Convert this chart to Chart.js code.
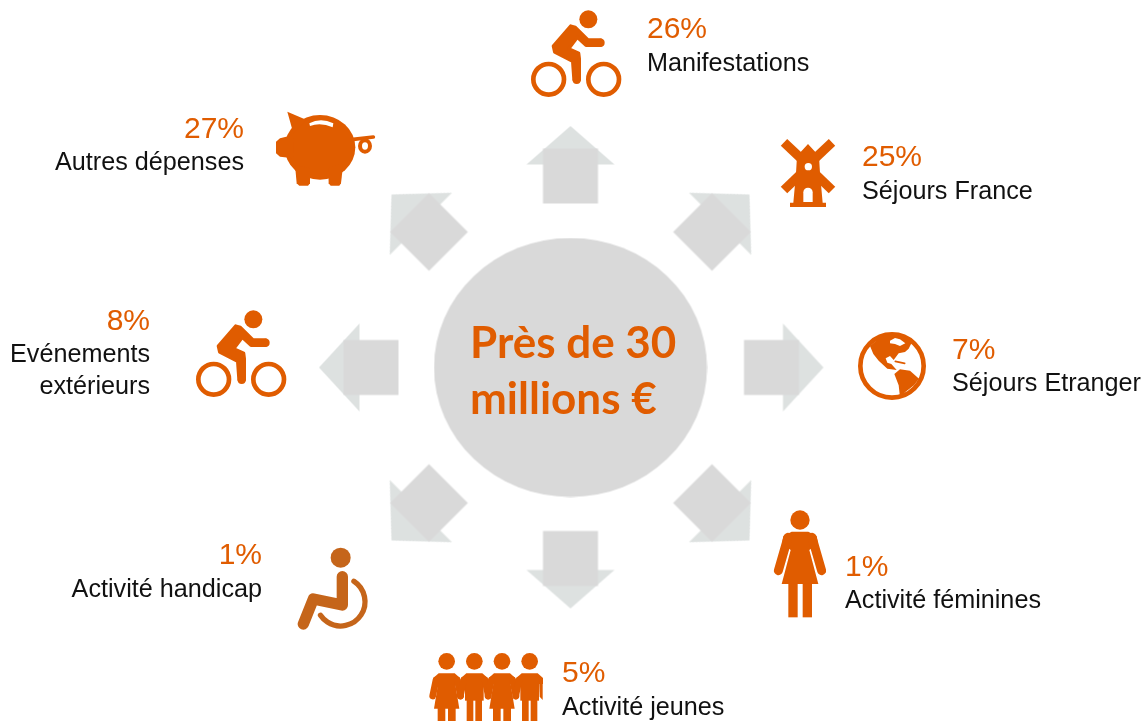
<!DOCTYPE html>
<html lang="fr"><head><meta charset="utf-8">
<style>html,body{margin:0;padding:0;background:#fff}canvas{display:block}</style>
<script src="https://cdn.jsdelivr.net/npm/chart.js@4"></script>
</head><body><canvas id="c" width="1144" height="722"></canvas>
<script>
// ---- data ----
const categories = ['Manifestations','Séjours France','Séjours Etranger','Activité féminines','Activité jeunes','Activité handicap','Evénements extérieurs','Autres dépenses'];
const shares = [26,25,7,1,5,1,8,27];
const labelLines = [['Manifestations'],['Séjours France'],['Séjours Etranger'],['Activité féminines'],['Activité jeunes'],['Activité handicap'],['Evénements','extérieurs'],['Autres dépenses']];
const hubTitle = ['Près de 30','millions €'];

// ---- layout (chart units) ----
const arrowX = [570.5,712,771.5,712,570.5,429,371,429];
const arrowY = [176,232,367.5,503,558.5,503,367.5,232];
const arrowTip = [50,53,52,53,50,53,52,53];
const iconX = [577,808,892,799,486,333,242,325];
const iconY = [54,173,366,564,687,589,354,148];
const textX = [647,862,952,845,562,262,150,244];
const textAlign = ['left','left','left','left','left','right','right','right'];
const pctBase = [38,166,359,576,682,564,330,138];
const lineBase = [71,199,391,608,715,597,362,170];

const ORANGE='#E05C00', CHAIR='#C5651A', HUB='#D9D9D9', TRI='#DDE1E0', INK='#111111';

function glyph(x0,y0,x1,y1,color,fn){
  const c=document.createElement('canvas');
  c.width=Math.round((x1-x0)/3); c.height=Math.round((y1-y0)/3);
  const g=c.getContext('2d'); g.scale(1/3,1/3); g.translate(-x0,-y0);
  g.fillStyle=color; g.strokeStyle=color; g.lineJoin='round'; g.lineCap='round';
  fn(g); return c;
}
function poly(g,p){g.beginPath();p.forEach((q,i)=>i?g.lineTo(q[0],q[1]):g.moveTo(q[0],q[1]));g.closePath();}
function dot(g,x,y,r){g.beginPath();g.arc(x,y,r,0,Math.PI*2);g.fill();}
function line(g,p,w,cap){g.lineWidth=w;g.lineCap=cap||'round';g.beginPath();p.forEach((q,i)=>i?g.lineTo(q[0],q[1]):g.moveTo(q[0],q[1]));g.stroke();}

const cyclist=()=>glyph(30,24,312,300,ORANGE,g=>{
  dot(g,205,58,27);
  g.lineWidth=14;
  [[86,238],[251,238]].forEach(w=>{g.beginPath();g.arc(w[0],w[1],46,0,Math.PI*2);g.stroke();});
  poly(g,[[152,78],[166,82],[204,120],[243,120],[243,136],[198,136],[172,112],[146,146],[176,160],[178,176],[178,240],[162,240],[158,184],[104,156],[100,138]]);
  g.fill(); g.lineWidth=10; g.stroke();
  line(g,[[242,128],[242,128]],24);
  line(g,[[170,240],[170,240]],24);
});
const windmill=()=>glyph(330,24,498,234,ORANGE,g=>{
  line(g,[[342,37],[400,92]],28,'butt');
  line(g,[[486,37],[428,92]],28,'butt');
  line(g,[[342,180],[392,132]],28,'butt');
  line(g,[[486,180],[436,132]],28,'butt');
  poly(g,[[414,42],[447,78],[450,130],[458,218],[468,218],[468,231],[360,231],[360,218],[370,218],[378,130],[381,78]]);
  g.fill();
  g.fillStyle='#fff'; dot(g,415,110,11);
  g.beginPath();g.moveTo(400,216);g.lineTo(400,187);g.arc(414,187,14,Math.PI,0);g.lineTo(428,216);g.closePath();g.fill();
});
const globe=()=>glyph(18,30,234,246,ORANGE,g=>{
  g.lineWidth=14; g.beginPath(); g.arc(126,138,95,0,Math.PI*2); g.stroke();
  poly(g,[[60,78],[90,52],[125,40],[160,44],[186,66],[176,86],[165,96],[146,100],[131,120],[120,108],[107,115],[112,128],[124,132],[140,150],[112,146],[86,122],[70,102]]);
  g.fill();
  poly(g,[[133,162],[150,148],[180,152],[207,176],[192,196],[166,216],[150,232],[146,196]]);
  g.fill();
  line(g,[[136,124],[164,130]],5);
  g.fillStyle='#fff';
  poly(g,[[120,62],[135,54],[150,58],[166,70],[150,78],[135,72],[120,70]]); g.fill();
});
const woman=()=>glyph(336,177,498,507,ORANGE,g=>{
  dot(g,420,210,29);
  poly(g,[[395,245],[445,245],[470,258],[474,280],[448,300],[475,402],[365,402],[392,300],[366,280],[370,258]]);
  g.fill();
  line(g,[[384,262],[355,362]],27);
  line(g,[[456,262],[485,362]],27);
  g.fillRect(385,400,28,102);
  g.fillRect(428,400,28,102);
});
const group=()=>glyph(24,396,372,606,ORANGE,g=>{
  [80,163,246,329].forEach((c,i)=>{
    dot(g,c,424,25);
    poly(g,[[c-24,460],[c+24,460],[c+40,474],[c+40,492],[c-40,492],[c-40,474]]); g.fill();
    if(i%2===0){
      poly(g,[[c-24,480],[c+24,480],[c+38,566],[c-38,566]]); g.fill();
      g.fillRect(c-27,564,23,39); g.fillRect(c+4,564,23,39);
    } else {
      g.fillRect(c-28,470,56,72);
      g.fillRect(c-23,540,20,63); g.fillRect(c+3,540,20,63);
    }
    line(g,[[c-32,480],[c-42,528]],20);
    if(i<3) line(g,[[c+32,480],[c+42,528]],20);
    else { poly(g,[[c+28,470],[c+39,490],[c+39,540],[c+30,530]]); g.fill(); }
  });
});
const chair=()=>glyph(48,261,270,513,CHAIR,g=>{
  dot(g,182,293,30);
  line(g,[[187,350],[187,435],[100,417],[70,492]],34);
  g.lineWidth=16; g.beginPath(); g.arc(182,425,73,-57*Math.PI/180,146*Math.PI/180); g.stroke();
});
const pig=()=>glyph(42,60,348,288,ORANGE,g=>{
  g.beginPath(); g.ellipse(180,172,106,97,0,0,Math.PI*2); g.fill();
  poly(g,[[82,65],[140,90],[100,130]]); g.fill();
  poly(g,[[60,145],[100,135],[100,205],[60,200],[48,190],[48,155]]); g.fill();
  poly(g,[[105,225],[150,235],[150,280],[144,287],[118,287],[110,280]]); g.fill();
  poly(g,[[205,235],[250,220],[243,280],[238,287],[212,287],[206,280]]); g.fill();
  line(g,[[280,148],[340,141]],11);
  g.lineWidth=12; g.beginPath(); g.ellipse(315,168,15,17,0,0,Math.PI*2); g.stroke();
  g.fillStyle='#fff';
  g.beginPath(); g.moveTo(148,100); g.quadraticCurveTo(182,82,220,100); g.lineTo(218,112); g.quadraticCurveTo(182,96,150,108); g.closePath(); g.fill();
});
function arrow(tip,base,half){
  const c=document.createElement('canvas'); c.width=c.height=130;
  const g=c.getContext('2d'); g.translate(65,65);
  g.fillStyle=TRI; poly(g,[[0,-tip],[half,-base],[-half,-base]]); g.fill();
  g.fillStyle=HUB; g.fillRect(-27.5,-27.5,55,55);
  return c;
}
function hub(){
  const c=document.createElement('canvas'); c.width=274; c.height=260;
  const g=c.getContext('2d'); g.fillStyle=HUB;
  g.beginPath(); g.ellipse(137,130,136.5,129.5,0,0,Math.PI*2); g.fill();
  return c;
}

const icons=[cyclist(),windmill(),globe(),woman(),group(),chair(),cyclist(),pig()];
const arrows=arrowTip.map(t=>arrow(t,11.5,44));

const textPlugin={
  id:'texts',
  afterDatasetsDraw(chart){
    const {ctx,scales:{x,y}}=chart;
    ctx.save(); ctx.textBaseline='alphabetic';
    categories.forEach((name,i)=>{
      ctx.textAlign=textAlign[i];
      ctx.fillStyle=ORANGE; ctx.font='30px "Liberation Sans"';
      ctx.fillText(shares[i]+'%',x.getPixelForValue(textX[i]),y.getPixelForValue(pctBase[i]));
      ctx.fillStyle=INK; ctx.font='25.2px "Liberation Sans"';
      labelLines[i].forEach((t,k)=>ctx.fillText(t,x.getPixelForValue(textX[i]),y.getPixelForValue(lineBase[i]+k*32)));
    });
    ctx.textAlign='left'; ctx.fillStyle=ORANGE; ctx.font='700 44px Lato';
    hubTitle.forEach((t,k)=>ctx.fillText(t,x.getPixelForValue(470),y.getPixelForValue(358+k*56)));
    ctx.restore();
  }
};

new Chart(document.getElementById('c'),{
  type:'scatter',
  data:{datasets:[
    {label:'Total',data:[{x:570.5,y:367.5}],pointStyle:[hub()],pointRadius:1},
    {label:'Flèches',data:arrowX.map((v,i)=>({x:v,y:arrowY[i]})),pointStyle:arrows,pointRotation:categories.map((_,i)=>i*45),pointRadius:1},
    {label:'Postes',data:iconX.map((v,i)=>({x:v,y:iconY[i]})),pointStyle:icons,pointRadius:1}
  ].map(d=>({...d,clip:false,borderWidth:0,backgroundColor:'rgba(0,0,0,0)',borderColor:'rgba(0,0,0,0)'}))},
  options:{
    responsive:false,animation:false,events:[],
    layout:{padding:0,autoPadding:false},
    plugins:{legend:{display:false},tooltip:{enabled:false}},
    scales:{
      x:{type:'linear',min:0,max:1144,display:false},
      y:{type:'linear',min:0,max:722,reverse:true,display:false}
    }
  },
  plugins:[textPlugin]
});
</script></body></html>
